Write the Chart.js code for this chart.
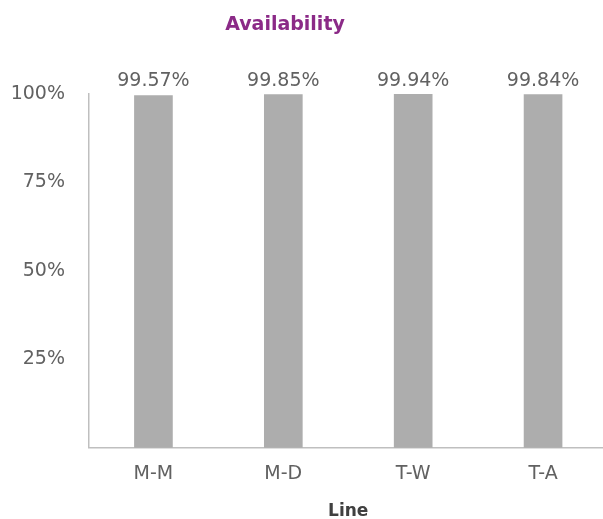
<!DOCTYPE html>
<html>
<head>
<meta charset="utf-8">
<script src="https://cdn.jsdelivr.net/npm/chart.js@4.4.1/dist/chart.umd.min.js"></script>
<style>
    html, body { margin: 0; padding: 0; background: #fff; overflow: hidden; }
    #caixa { width: 610px; height: 524px; position: relative; }
</style>
</head>
<body>
<div id="caixa"><canvas id="grafico"></canvas></div>
<script>
// Dados do gráfico
const linhas = ["M-M", "M-D", "T-W", "T-A"];
const disponibilidade = [99.57, 99.85, 99.94, 99.84];
const ticksY = [25, 50, 75, 100];
const tituloTexto = "Availability";
const tituloEixoX = "Line";

const fonte = "'DejaVu Sans', sans-serif";
const corTexto = "#616161";
const corEixo = "#bfbfbf";

// Plugin para os rótulos de valor e o título
const rotulos = {
    id: "rotulos",
    afterDatasetsDraw(chart) {
        const ctx = chart.ctx;
        const meta = chart.getDatasetMeta(0);
        const yTopo = chart.scales.y.getPixelForValue(100) - 13;
        ctx.save();
        ctx.font = "19px " + fonte;
        ctx.fillStyle = corTexto;
        ctx.textAlign = "center";
        ctx.textBaseline = "middle";
        meta.data.forEach((barra, i) => {
            ctx.fillText(disponibilidade[i].toFixed(2) + "%", barra.x, yTopo);
        });
        // Título
        ctx.font = "bold 19px " + fonte;
        ctx.fillStyle = "#8b2a87";
        ctx.fillText(tituloTexto, 285, 25);
        ctx.restore();
    }
};

const ctx = document.getElementById("grafico").getContext("2d");

new Chart(ctx, {
    type: "bar",
    data: {
        labels: linhas,
        datasets: [{
            label: tituloTexto,
            data: disponibilidade,
            backgroundColor: "#adadad",
            barThickness: 38
        }]
    },
    options: {
        responsive: true,
        maintainAspectRatio: false,
        animation: false,
        layout: {
            padding: { top: 94, right: 2, bottom: 2, left: 0 }
        },
        plugins: {
            legend: { display: false },
            tooltip: { enabled: false }
        },
        scales: {
            x: {
                grid: { display: false, drawTicks: false },
                border: { color: corEixo, width: 1.5 },
                ticks: {
                    color: corTexto,
                    font: { family: fonte, size: 19 },
                    padding: 15
                },
                title: {
                    display: true,
                    text: tituloEixoX,
                    color: "#404040",
                    font: { family: fonte, size: 17, weight: "bold" },
                    padding: { top: 1, bottom: 0 }
                }
            },
            y: {
                min: 0,
                max: 100,
                afterBuildTicks(scale) {
                    scale.ticks = ticksY.map(v => ({ value: v }));
                },
                afterFit(scale) {
                    scale.width = 88.5;
                },
                grid: { display: false, drawTicks: false },
                border: { color: corEixo, width: 1.5 },
                ticks: {
                    color: corTexto,
                    font: { family: fonte, size: 19 },
                    padding: 23.5,
                    callback: v => v + "%"
                }
            }
        }
    },
    plugins: [rotulos]
});
</script>
</body>
</html>
